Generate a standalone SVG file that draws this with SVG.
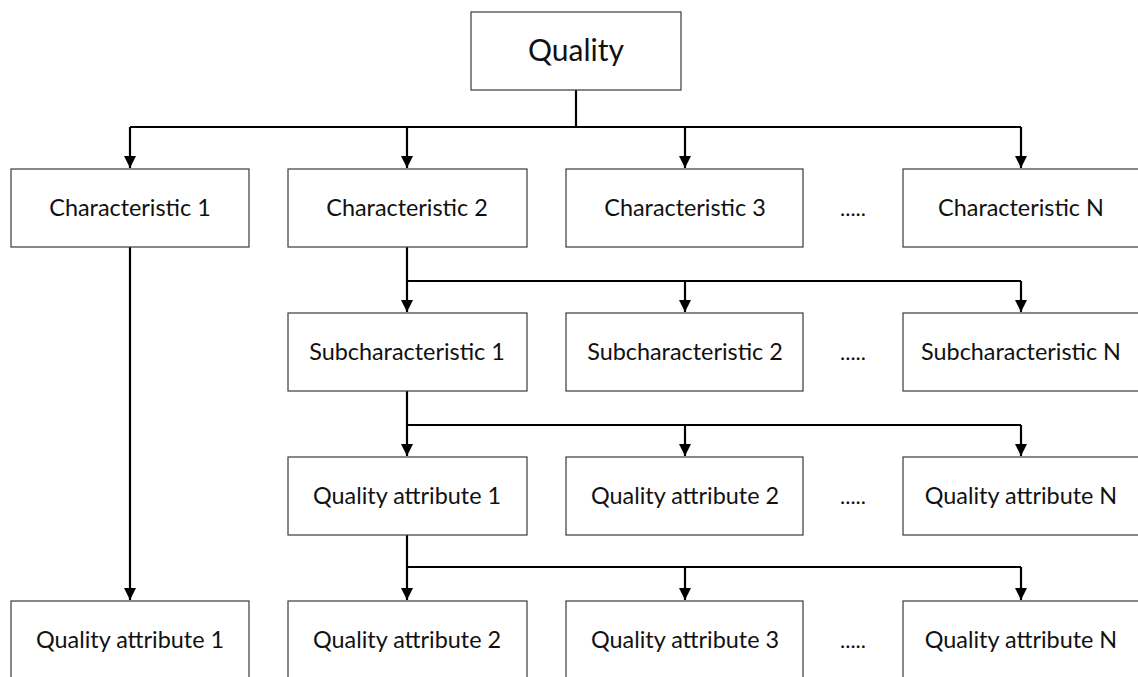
<svg xmlns="http://www.w3.org/2000/svg" width="1138" height="677" viewBox="0 0 1138 677">
  <style>
    .box { fill: #ffffff; stroke: #3a3a3a; stroke-width: 1.2; }
    .lbl { font-family: Lato, "Open Sans", sans-serif; font-size: 23.4px; fill: #111; text-anchor: middle; }
    .big { font-size: 30px; }
    .dots { font-family: Lato, sans-serif; font-size: 22px; fill: #111; text-anchor: middle; }
    .wire { fill: none; stroke: #000; stroke-width: 2.2; }
  </style>
  <defs>
    <marker id="arrow" viewBox="0 0 12 12" refX="12" refY="6" markerWidth="12" markerHeight="12" markerUnits="userSpaceOnUse" orient="auto">
      <path d="M0,0 L12,6 L0,12 Z" fill="#000"/>
    </marker>
  </defs>

  <rect width="1138" height="677" fill="#ffffff"/>

  <!-- connectors -->
  <g id="connectors">
    <path class="wire" d="M576,90 V127"/>
    <path class="wire" d="M130,127 H1021"/>
    <path class="wire" d="M130,127 V168" marker-end="url(#arrow)"/>
    <path class="wire" d="M407,127 V168" marker-end="url(#arrow)"/>
    <path class="wire" d="M685,127 V168" marker-end="url(#arrow)"/>
    <path class="wire" d="M1021,127 V168" marker-end="url(#arrow)"/>

    <path class="wire" d="M130,247 V600" marker-end="url(#arrow)"/>

    <path class="wire" d="M407,247 V312" marker-end="url(#arrow)"/>
    <path class="wire" d="M407,281 H1021"/>
    <path class="wire" d="M685,281 V312" marker-end="url(#arrow)"/>
    <path class="wire" d="M1021,281 V312" marker-end="url(#arrow)"/>

    <path class="wire" d="M407,391 V456" marker-end="url(#arrow)"/>
    <path class="wire" d="M407,425 H1021"/>
    <path class="wire" d="M685,425 V456" marker-end="url(#arrow)"/>
    <path class="wire" d="M1021,425 V456" marker-end="url(#arrow)"/>

    <path class="wire" d="M407,535 V600" marker-end="url(#arrow)"/>
    <path class="wire" d="M407,567 H1021"/>
    <path class="wire" d="M685,567 V600" marker-end="url(#arrow)"/>
    <path class="wire" d="M1021,567 V600" marker-end="url(#arrow)"/>
  </g>

  <!-- root -->
  <g id="quality">
    <rect class="box" x="471" y="12" width="210" height="78"/>
    <text class="lbl big" x="576" y="61">Quality</text>
  </g>

  <!-- characteristics -->
  <g id="char-1">
    <rect class="box" x="11" y="169" width="238" height="78"/>
    <text class="lbl" x="130" y="216">Characteristic 1</text>
  </g>
  <g id="char-2">
    <rect class="box" x="288" y="169" width="239" height="78"/>
    <text class="lbl" x="407" y="216">Characteristic 2</text>
  </g>
  <g id="char-3">
    <rect class="box" x="566" y="169" width="237" height="78"/>
    <text class="lbl" x="685" y="216">Characteristic 3</text>
  </g>
  <text class="dots" x="853" y="216">.....</text>
  <g id="char-n">
    <rect class="box" x="903" y="169" width="240" height="78"/>
    <text class="lbl" x="1021" y="216">Characteristic N</text>
  </g>

  <!-- subcharacteristics -->
  <g id="sub-1">
    <rect class="box" x="288" y="313" width="239" height="78"/>
    <text class="lbl" x="407" y="360">Subcharacteristic 1</text>
  </g>
  <g id="sub-2">
    <rect class="box" x="566" y="313" width="237" height="78"/>
    <text class="lbl" x="685" y="360">Subcharacteristic 2</text>
  </g>
  <text class="dots" x="853" y="360">.....</text>
  <g id="sub-n">
    <rect class="box" x="903" y="313" width="240" height="78"/>
    <text class="lbl" x="1021" y="360">Subcharacteristic N</text>
  </g>

  <!-- quality attributes of subcharacteristic 1 -->
  <g id="qa-sub-1">
    <rect class="box" x="288" y="457" width="239" height="78"/>
    <text class="lbl" x="407" y="504">Quality attribute 1</text>
  </g>
  <g id="qa-sub-2">
    <rect class="box" x="566" y="457" width="237" height="78"/>
    <text class="lbl" x="685" y="504">Quality attribute 2</text>
  </g>
  <text class="dots" x="853" y="504">.....</text>
  <g id="qa-sub-n">
    <rect class="box" x="903" y="457" width="240" height="78"/>
    <text class="lbl" x="1021" y="504">Quality attribute N</text>
  </g>

  <!-- bottom row of quality attributes -->
  <g id="qa-1">
    <rect class="box" x="11" y="601" width="238" height="80"/>
    <text class="lbl" x="130" y="648">Quality attribute 1</text>
  </g>
  <g id="qa-2">
    <rect class="box" x="288" y="601" width="239" height="80"/>
    <text class="lbl" x="407" y="648">Quality attribute 2</text>
  </g>
  <g id="qa-3">
    <rect class="box" x="566" y="601" width="237" height="80"/>
    <text class="lbl" x="685" y="648">Quality attribute 3</text>
  </g>
  <text class="dots" x="853" y="648">.....</text>
  <g id="qa-n">
    <rect class="box" x="903" y="601" width="240" height="80"/>
    <text class="lbl" x="1021" y="648">Quality attribute N</text>
  </g>
</svg>
